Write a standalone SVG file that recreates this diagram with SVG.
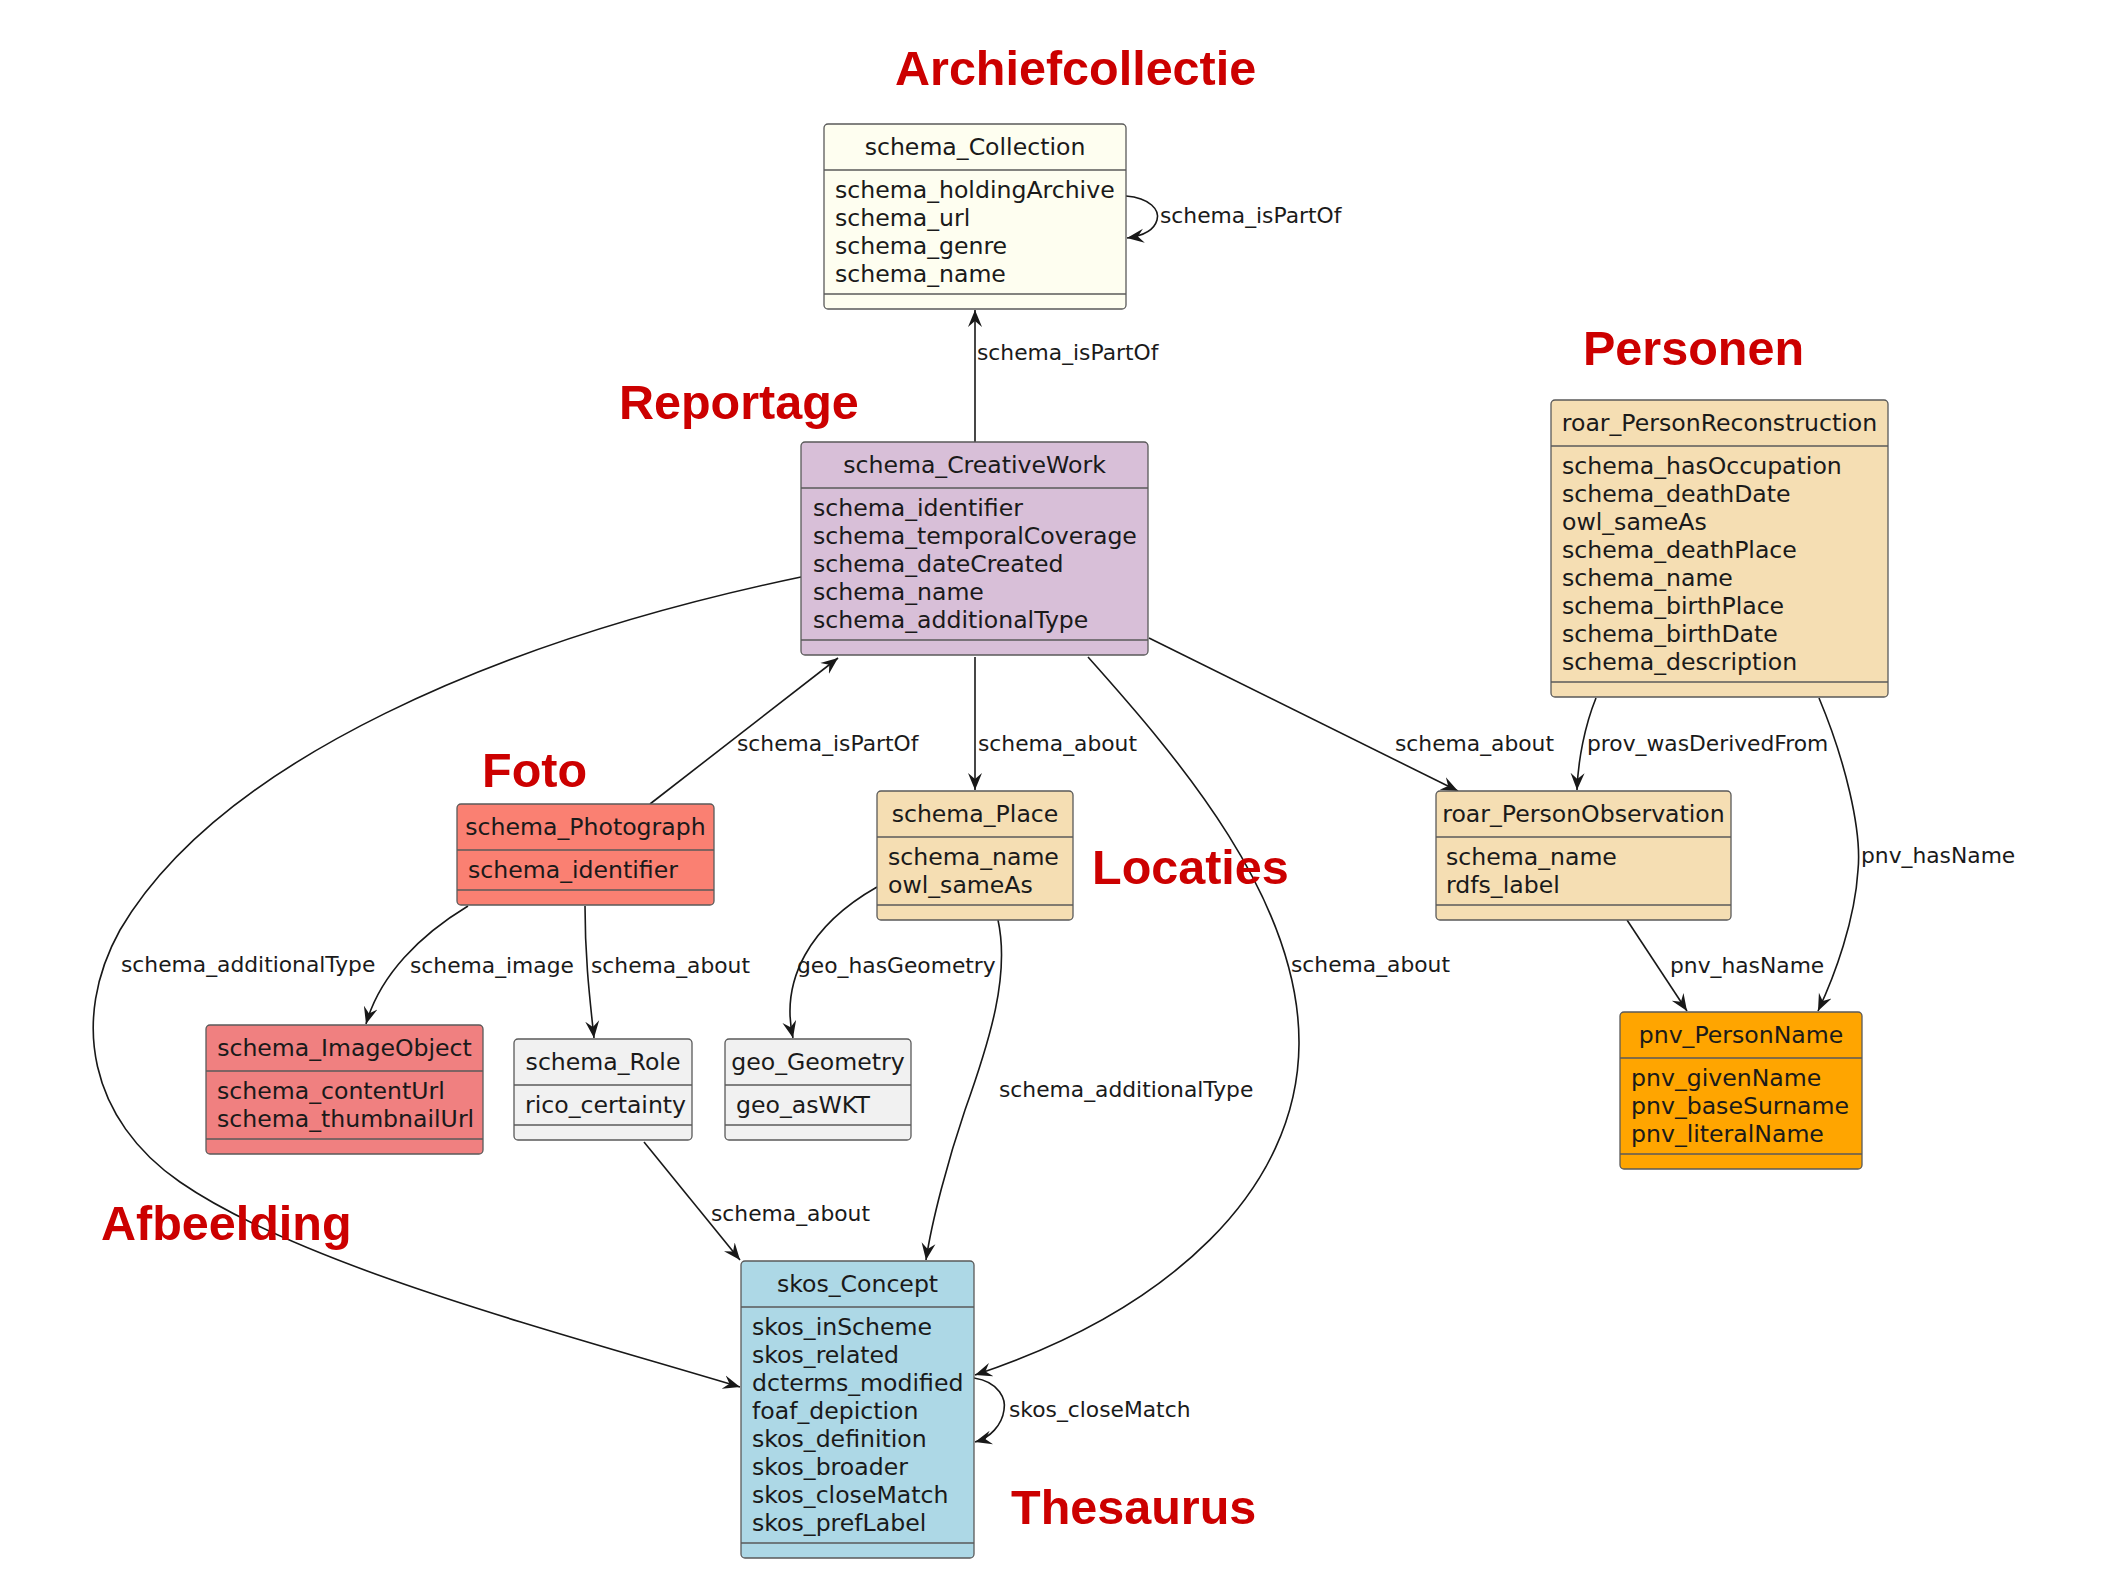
<svg xmlns="http://www.w3.org/2000/svg" width="2114" height="1594" viewBox="0 0 2114 1594">
<defs>
<marker id="arr" markerUnits="userSpaceOnUse" markerWidth="18" markerHeight="16" viewBox="0 0 18 16" refX="17" refY="8" orient="auto">
<path d="M0,1 L17,8 L0,15 L6,8 Z" fill="#181818"/>
</marker>
<style>
.box{stroke:#5a5a5a;stroke-width:1.3}
.sep{stroke:#5a5a5a;stroke-width:1.3}
.t{font-family:"DejaVu Sans",sans-serif;font-size:23.6px;fill:#1a1a1a}
.tc{text-anchor:middle}
.e{fill:none;stroke:#181818;stroke-width:1.6}
.lbl{font-family:"DejaVu Sans",sans-serif;font-size:21.8px;fill:#1a1a1a}
.red{font-family:"Liberation Sans",Arial,sans-serif;font-weight:bold;font-size:48.5px;fill:#CC0000}
</style>
</defs>
<rect width="2114" height="1594" fill="#ffffff"/>

<g id="connectors">
<path class="e" d="M975,442 L975,310" marker-end="url(#arr)"/>
<path class="e" d="M1126,196 C1150,198 1160,210 1157,220 C1154,231 1142,236 1127,238" marker-end="url(#arr)"/>
<path class="e" d="M650,804 L838,658" marker-end="url(#arr)"/>
<path class="e" d="M975,657 L975,790" marker-end="url(#arr)"/>
<path class="e" d="M1149,638 L1458,791" marker-end="url(#arr)"/>
<path class="e" d="M1596,698 C1585,725 1578,760 1577,790" marker-end="url(#arr)"/>
<path class="e" d="M1819,698 C1845,760 1862,830 1858,870 C1855,920 1835,975 1818,1011" marker-end="url(#arr)"/>
<path class="e" d="M1627,920 L1687,1011" marker-end="url(#arr)"/>
<path class="e" d="M468,906 C420,935 380,975 366,1024" marker-end="url(#arr)"/>
<path class="e" d="M585,906 C585,960 590,1000 594,1038" marker-end="url(#arr)"/>
<path class="e" d="M877,887 C810,925 780,980 793,1038" marker-end="url(#arr)"/>
<path class="e" d="M998,920 C1010,975 990,1040 965,1110 C948,1160 932,1220 926,1260" marker-end="url(#arr)"/>
<path class="e" d="M644,1142 L740,1260" marker-end="url(#arr)"/>
<path class="e" d="M801,577 C500,640 220,760 120,930 C70,1020 90,1120 180,1182 C300,1265 550,1330 740,1387" marker-end="url(#arr)"/>
<path class="e" d="M1088,657 C1180,760 1300,900 1299,1044 C1298,1190 1170,1310 975,1375" marker-end="url(#arr)"/>
<path class="e" d="M974,1378 C1000,1382 1006,1400 1004,1410 C1002,1425 990,1438 975,1442" marker-end="url(#arr)"/>
<text class="lbl" x="977" y="360">schema_isPartOf</text>
<text class="lbl" x="1160" y="223">schema_isPartOf</text>
<text class="lbl" x="737" y="751">schema_isPartOf</text>
<text class="lbl" x="978" y="751">schema_about</text>
<text class="lbl" x="1395" y="751">schema_about</text>
<text class="lbl" x="1587" y="751">prov_wasDerivedFrom</text>
<text class="lbl" x="1861" y="863">pnv_hasName</text>
<text class="lbl" x="1670" y="973">pnv_hasName</text>
<text class="lbl" x="121" y="972">schema_additionalType</text>
<text class="lbl" x="410" y="973">schema_image</text>
<text class="lbl" x="591" y="973">schema_about</text>
<text class="lbl" x="797" y="973">geo_hasGeometry</text>
<text class="lbl" x="1291" y="972">schema_about</text>
<text class="lbl" x="999" y="1097">schema_additionalType</text>
<text class="lbl" x="711" y="1221">schema_about</text>
<text class="lbl" x="1009" y="1417">skos_closeMatch</text>
</g>

<g id="schema_Collection">
<rect class="box" x="824" y="124" width="302" height="185" rx="4" fill="#FEFEF0"/>
<line class="sep" x1="824" y1="170" x2="1126" y2="170"/>
<line class="sep" x1="824" y1="294" x2="1126" y2="294"/>
<text class="t tc" x="975" y="155">schema_Collection</text>
<text class="t" x="835" y="198">schema_holdingArchive</text>
<text class="t" x="835" y="226">schema_url</text>
<text class="t" x="835" y="254">schema_genre</text>
<text class="t" x="835" y="282">schema_name</text>
</g>

<g id="schema_CreativeWork">
<rect class="box" x="801" y="442" width="347" height="213" rx="4" fill="#D8BFD8"/>
<line class="sep" x1="801" y1="488" x2="1148" y2="488"/>
<line class="sep" x1="801" y1="640" x2="1148" y2="640"/>
<text class="t tc" x="974.5" y="473">schema_CreativeWork</text>
<text class="t" x="813" y="516">schema_identifier</text>
<text class="t" x="813" y="544">schema_temporalCoverage</text>
<text class="t" x="813" y="572">schema_dateCreated</text>
<text class="t" x="813" y="600">schema_name</text>
<text class="t" x="813" y="628">schema_additionalType</text>
</g>

<g id="roar_PersonReconstruction">
<rect class="box" x="1551" y="400" width="337" height="297" rx="4" fill="#F5DEB3"/>
<line class="sep" x1="1551" y1="446" x2="1888" y2="446"/>
<line class="sep" x1="1551" y1="682" x2="1888" y2="682"/>
<text class="t tc" x="1719.5" y="431">roar_PersonReconstruction</text>
<text class="t" x="1562" y="474">schema_hasOccupation</text>
<text class="t" x="1562" y="502">schema_deathDate</text>
<text class="t" x="1562" y="530">owl_sameAs</text>
<text class="t" x="1562" y="558">schema_deathPlace</text>
<text class="t" x="1562" y="586">schema_name</text>
<text class="t" x="1562" y="614">schema_birthPlace</text>
<text class="t" x="1562" y="642">schema_birthDate</text>
<text class="t" x="1562" y="670">schema_description</text>
</g>

<g id="schema_Photograph">
<rect class="box" x="457" y="804" width="257" height="101" rx="4" fill="#FA8072"/>
<line class="sep" x1="457" y1="850" x2="714" y2="850"/>
<line class="sep" x1="457" y1="890" x2="714" y2="890"/>
<text class="t tc" x="585.5" y="835">schema_Photograph</text>
<text class="t" x="468" y="878">schema_identifier</text>
</g>

<g id="schema_Place">
<rect class="box" x="877" y="791" width="196" height="129" rx="4" fill="#F5DEB3"/>
<line class="sep" x1="877" y1="837" x2="1073" y2="837"/>
<line class="sep" x1="877" y1="905" x2="1073" y2="905"/>
<text class="t tc" x="975" y="822">schema_Place</text>
<text class="t" x="888" y="865">schema_name</text>
<text class="t" x="888" y="893">owl_sameAs</text>
</g>

<g id="roar_PersonObservation">
<rect class="box" x="1436" y="791" width="295" height="129" rx="4" fill="#F5DEB3"/>
<line class="sep" x1="1436" y1="837" x2="1731" y2="837"/>
<line class="sep" x1="1436" y1="905" x2="1731" y2="905"/>
<text class="t tc" x="1583.5" y="822">roar_PersonObservation</text>
<text class="t" x="1446" y="865">schema_name</text>
<text class="t" x="1446" y="893">rdfs_label</text>
</g>

<g id="schema_ImageObject">
<rect class="box" x="206" y="1025" width="277" height="129" rx="4" fill="#F08080"/>
<line class="sep" x1="206" y1="1071" x2="483" y2="1071"/>
<line class="sep" x1="206" y1="1139" x2="483" y2="1139"/>
<text class="t tc" x="344.5" y="1056">schema_ImageObject</text>
<text class="t" x="217" y="1099">schema_contentUrl</text>
<text class="t" x="217" y="1127">schema_thumbnailUrl</text>
</g>

<g id="schema_Role">
<rect class="box" x="514" y="1039" width="178" height="101" rx="4" fill="#F1F1F1"/>
<line class="sep" x1="514" y1="1085" x2="692" y2="1085"/>
<line class="sep" x1="514" y1="1125" x2="692" y2="1125"/>
<text class="t tc" x="603" y="1070">schema_Role</text>
<text class="t" x="525" y="1113">rico_certainty</text>
</g>

<g id="geo_Geometry">
<rect class="box" x="725" y="1039" width="186" height="101" rx="4" fill="#F1F1F1"/>
<line class="sep" x1="725" y1="1085" x2="911" y2="1085"/>
<line class="sep" x1="725" y1="1125" x2="911" y2="1125"/>
<text class="t tc" x="818" y="1070">geo_Geometry</text>
<text class="t" x="736" y="1113">geo_asWKT</text>
</g>

<g id="pnv_PersonName">
<rect class="box" x="1620" y="1012" width="242" height="157" rx="4" fill="#FFA500"/>
<line class="sep" x1="1620" y1="1058" x2="1862" y2="1058"/>
<line class="sep" x1="1620" y1="1154" x2="1862" y2="1154"/>
<text class="t tc" x="1741" y="1043">pnv_PersonName</text>
<text class="t" x="1631" y="1086">pnv_givenName</text>
<text class="t" x="1631" y="1114">pnv_baseSurname</text>
<text class="t" x="1631" y="1142">pnv_literalName</text>
</g>

<g id="skos_Concept">
<rect class="box" x="741" y="1261" width="233" height="297" rx="4" fill="#ADD8E6"/>
<line class="sep" x1="741" y1="1307" x2="974" y2="1307"/>
<line class="sep" x1="741" y1="1543" x2="974" y2="1543"/>
<text class="t tc" x="857.5" y="1292">skos_Concept</text>
<text class="t" x="752" y="1335">skos_inScheme</text>
<text class="t" x="752" y="1363">skos_related</text>
<text class="t" x="752" y="1391">dcterms_modified</text>
<text class="t" x="752" y="1419">foaf_depiction</text>
<text class="t" x="752" y="1447">skos_definition</text>
<text class="t" x="752" y="1475">skos_broader</text>
<text class="t" x="752" y="1503">skos_closeMatch</text>
<text class="t" x="752" y="1531">skos_prefLabel</text>
</g>

<g id="labels">
<text class="red" x="895" y="85">Archiefcollectie</text>
<text class="red" x="619" y="419">Reportage</text>
<text class="red" x="1583" y="365">Personen</text>
<text class="red" x="482" y="787">Foto</text>
<text class="red" x="1092" y="884">Locaties</text>
<text class="red" x="101" y="1240">Afbeelding</text>
<text class="red" x="1011" y="1524">Thesaurus</text>
</g>
</svg>
